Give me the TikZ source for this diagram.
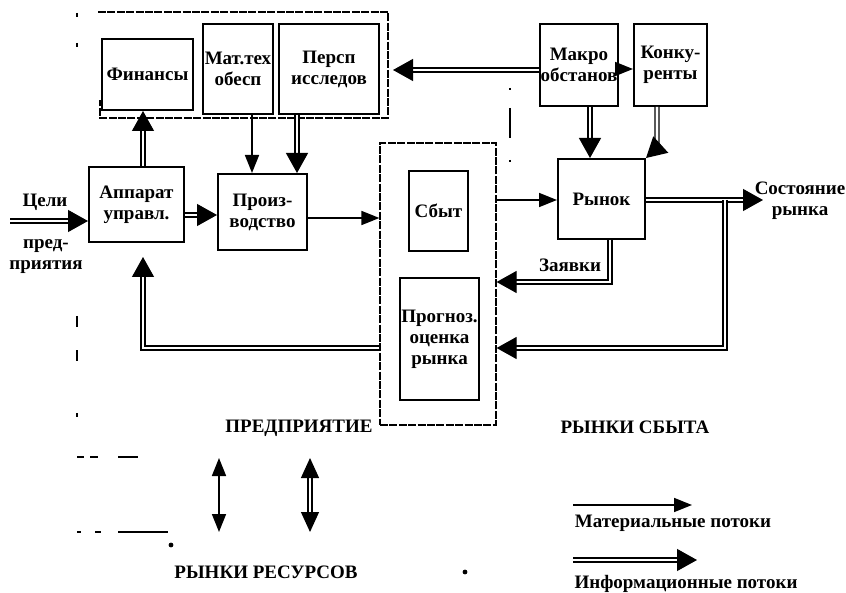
\documentclass[tikz,border=0pt]{standalone}
\usepackage{fontspec}
\setmainfont{Liberation Serif}
\usetikzlibrary{arrows.meta, positioning}

\begin{document}
\begin{tikzpicture}[x=0.5pt, y=-0.5pt,
  box/.style = {
    rectangle, draw=black, line width=1pt, align=center, inner sep=0.5pt,
    font=\fontsize{9.5}{10.5}\selectfont\bfseries
  },
  region/.style = {rectangle, draw=black, line width=0.6pt, dash pattern=on 4pt off 0.7pt},
  lbl/.style = {font=\fontsize{9.5}{10.5}\selectfont\bfseries, align=center, inner sep=1pt},
  matflow/.style = {-{Triangle[length=9pt, width=7pt]}, line width=0.8pt},
  infoflow/.style = {-{Triangle[length=10pt, width=11pt]}, double, double distance=1.4pt, line width=0.6pt},
  sparse/.style = {line width=0.6pt}
]
  \useasboundingbox (0,0) rectangle (846,593);

  % Enterprise
  \node[box, minimum width=45.5pt, minimum height=35.5pt] (fin)  at (147.5,74.5) {Финансы};
  \node[box, minimum width=35pt,   minimum height=45pt]   (mat)  at (238,69)     {Мат.тех\\обесп};
  \node[box, minimum width=50pt,   minimum height=45pt]   (pers) at (329,69)     {Персп\\исследов};
  \node[box, minimum width=47.5pt, minimum height=37.5pt] (app)  at (136.5,204.5) {Аппарат\\управл.};
  \node[box, minimum width=44.5pt, minimum height=38pt]   (prod) at (262.5,212)  {Произ-\\водство};

  % Sales block
  \node[region, minimum width=58pt, minimum height=141pt] (salesreg) at (438,284) {};
  \node[box, minimum width=29.5pt, minimum height=40pt] (sbyt) at (438.5,211) {Сбыт};
  \node[box, minimum width=38.5pt, minimum height=61pt] (prog) at (439.5,339) {Прогноз.\\оценка\\рынка};

  % Market
  \node[box, minimum width=37pt,   minimum height=41pt] (makro) at (579,65)    {Макро\\обстанов};
  \node[box, minimum width=36.5pt, minimum height=41pt] (konk)  at (670.5,65)  {Конку-\\ренты};
  \node[box, minimum width=43.5pt, minimum height=40pt] (ryn)   at (601.5,199) {Рынок};

  % Frames
  \draw[region] (98,12) -- (388,12) -- (388,118) -- (100,118) -- (100,100);
  \draw[sparse] (77,13) -- (77,17) (77,43) -- (77,47) (77,316) -- (77,327)
    (77,350) -- (77,361) (77,413) -- (77,417);
  \draw[sparse] (77,457) -- (84,457) (90,457) -- (98,457) (118,457) -- (138,457);
  \draw[sparse] (77,532) -- (81,532) (95,532) -- (101,532) (118,532) -- (168,532);
  \draw[line width=0.6pt, dash pattern=on 1pt off 9pt on 15pt off 11pt] (510,88) -- (510,168);
  \fill (171,545) circle (1.2pt);
  \fill (465,572) circle (1.2pt);

  \coordinate (goal) at (10,221);
  \coordinate (topframe) at (393,70);
  \coordinate (branch) at (725,200);
  \coordinate (state) at (763,200);

  % Labels
  \node[lbl] (goaltxt) at (45,202) {Цели};
  \node[lbl] (goalsub) at (46,257) {пред-\\приятия};
  \node[lbl] (zayavki) at (570,265) {Заявки};
  \node[lbl] (statetxt) at (800,201) {Состояние\\рынка};
  \node[lbl] (enttxt) at (299,428) {ПРЕДПРИЯТИЕ};
  \node[lbl] (salestxt) at (635,427) {РЫНКИ СБЫТА};
  \node[lbl] (restxt) at (266,572) {РЫНКИ РЕСУРСОВ};

  % Flows inside the enterprise
  \draw[infoflow] (goal) -- (goal -| app.west);
  \draw[infoflow] (app.east |- 0,215) -- (prod.west |- 0,215);
  \draw[infoflow] (app.north -| 143,0) -- (fin.south -| 143,0);
  \draw[matflow] (mat.south -| 252,0) -- (prod.north -| 252,0);
  \draw[infoflow] (pers.south -| 297,0) -- (prod.north -| 297,0);
  \draw[matflow] (prod.east |- 0,218) -- (salesreg.west |- 0,218);

  % Flows from the market
  \draw[infoflow] (makro.west |- 0,70) -- (topframe);
  \draw[matflow] (makro.east |- 0,69) -- (konk.west |- 0,69);
  \draw[infoflow] (makro.south -| 590,0) -- (ryn.north -| 590,0);
  \draw[infoflow] (konk.south -| 657,0) -- (657,148) -- (ryn.north east);
  \draw[matflow] (salesreg.east |- 0,200) -- (ryn.west |- 0,200);
  \draw[infoflow] (ryn.east |- 0,200) -- (state);
  \draw[infoflow] (ryn.south -| 610,0) -- (610,282) -- (salesreg.east |- 0,282);
  \draw[infoflow] (branch) -- (725,348) -- (salesreg.east |- 0,348);
  \draw[infoflow, shorten >=7pt] (salesreg.west |- 0,348) -- (143,348) -- (app.south -| 143,0);

  % Resource markets
  \coordinate (resA1) at (219,458);
  \coordinate (resA2) at (219,532);
  \coordinate (resB1) at (310,458);
  \coordinate (resB2) at (310,532);
  \draw[matflow, {Triangle[length=9pt, width=7pt]}-{Triangle[length=9pt, width=7pt]}] (resA1) -- (resA2);
  \draw[infoflow, {Triangle[length=10pt, width=9pt]}-{Triangle[length=10pt, width=9pt]}] (resB1) -- (resB2);

  % Legend
  \coordinate (legA1) at (573,505);
  \coordinate (legA2) at (692,505);
  \coordinate (legB1) at (573,560);
  \coordinate (legB2) at (697,560);
  \draw[matflow] (legA1) -- (legA2);
  \draw[infoflow] (legB1) -- (legB2);
  \node[lbl] (legAtxt) at (673,523) {Материальные потоки};
  \node[lbl] (legBtxt) at (686,584) {Информационные потоки};
\end{tikzpicture}
\end{document}
